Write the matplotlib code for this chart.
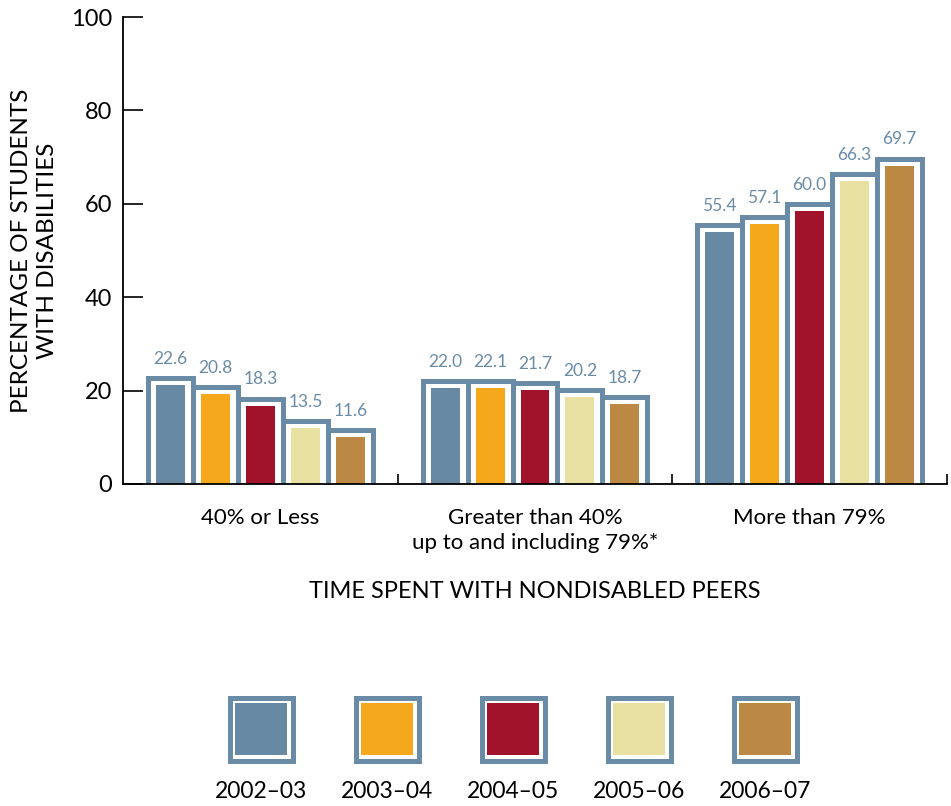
import numpy as np
import matplotlib.pyplot as plt

plt.rcParams['font.family'] = ['Lato', 'DejaVu Sans']

# Data
categories = ["40% or Less", "Greater than 40%\nup to and including 79%*", "More than 79%"]
years = ["2002\u201303", "2003\u201304", "2004\u201305", "2005\u201306", "2006\u201307"]
v_2002 = [22.6, 22.0, 55.4]
v_2003 = [20.8, 22.1, 57.1]
v_2004 = [18.3, 21.7, 60.0]
v_2005 = [13.5, 20.2, 66.3]
v_2006 = [11.6, 18.7, 69.7]
series = [v_2002, v_2003, v_2004, v_2005, v_2006]

colors = ["#6889A4", "#F6A81D", "#A0132B", "#E9E1A1", "#BC8945"]
edge = "#6A8BA6"

W, H = 951, 806
fig = plt.figure(figsize=(W / 100, H / 100), dpi=100)

# main axes placed in pixel coords
ax = fig.add_axes([123 / W, 1 - 484 / H, (947 - 123) / W, (484 - 17) / H])

x = np.arange(len(categories))
pitch = 45 / 274.7      # bar spacing in data units
inner_w = 29 / 274.7    # width of coloured fill
for i, vals in enumerate(series):
    vals = np.array(vals)
    pos = x + (i - 2) * pitch
    # outline bar (bottom sunk below axis so its bottom stroke is clipped)
    ax.bar(pos, vals + 3, bottom=-3, width=pitch, facecolor="white",
           edgecolor=edge, linewidth=3.6, zorder=2)
    ax.bar(pos, vals - 1.5, width=inner_w, color=colors[i], zorder=3)
    for p, v in zip(pos, vals):
        ax.annotate(f"{v:.1f}", (p, v), xytext=(0, 8), textcoords="offset points",
                    ha="center", va="bottom", fontsize=12.5, color=edge)

ax.set_xlim(-0.5, 2.5)
ax.set_ylim(0, 100)
ax.set_yticks([0, 20, 40, 60, 80, 100])
ax.tick_params(axis="y", direction="in", length=14.5, width=1.2, labelsize=17, pad=8)
ax.set_xticks(x)
ax.set_xticklabels(categories, fontsize=16, linespacing=1.35)
ax.tick_params(axis="x", which="major", length=0, pad=17)
ax.set_xticks([0.5, 1.5, 2.5], minor=True)
ax.tick_params(axis="x", which="minor", direction="in", length=7, width=1.2)
for s in ["top", "right"]:
    ax.spines[s].set_visible(False)
for s in ["left", "bottom"]:
    ax.spines[s].set_linewidth(1.3)
    ax.spines[s].set_zorder(5)

ax.set_xlabel("TIME SPENT WITH NONDISABLED PEERS", fontsize=17, labelpad=20)
ax.set_ylabel("PERCENTAGE OF STUDENTS\nWITH DISABILITIES", fontsize=17.5, labelpad=9,
              linespacing=1.3)

# legend axes
lax = fig.add_axes([198 / W, 1 - 760.5 / H, 630 / W, 63 / H])
lx = np.arange(len(years)) + 0.5
lax.bar(lx, 1, width=63 / 126, facecolor="white", edgecolor=edge, linewidth=3.6,
        clip_on=False)
lax.bar(lx, 1 - 2 * 5.5 / 63, bottom=5.5 / 63, width=52 / 126, color=colors,
        clip_on=False)
for xi, y in zip(lx, years):
    lax.text(xi, -0.33, y, ha="center", va="top", fontsize=16.5)
lax.set_xlim(0, len(years))
lax.set_ylim(0, 1)
lax.axis("off")

fig.savefig("out.png", dpi=100)
